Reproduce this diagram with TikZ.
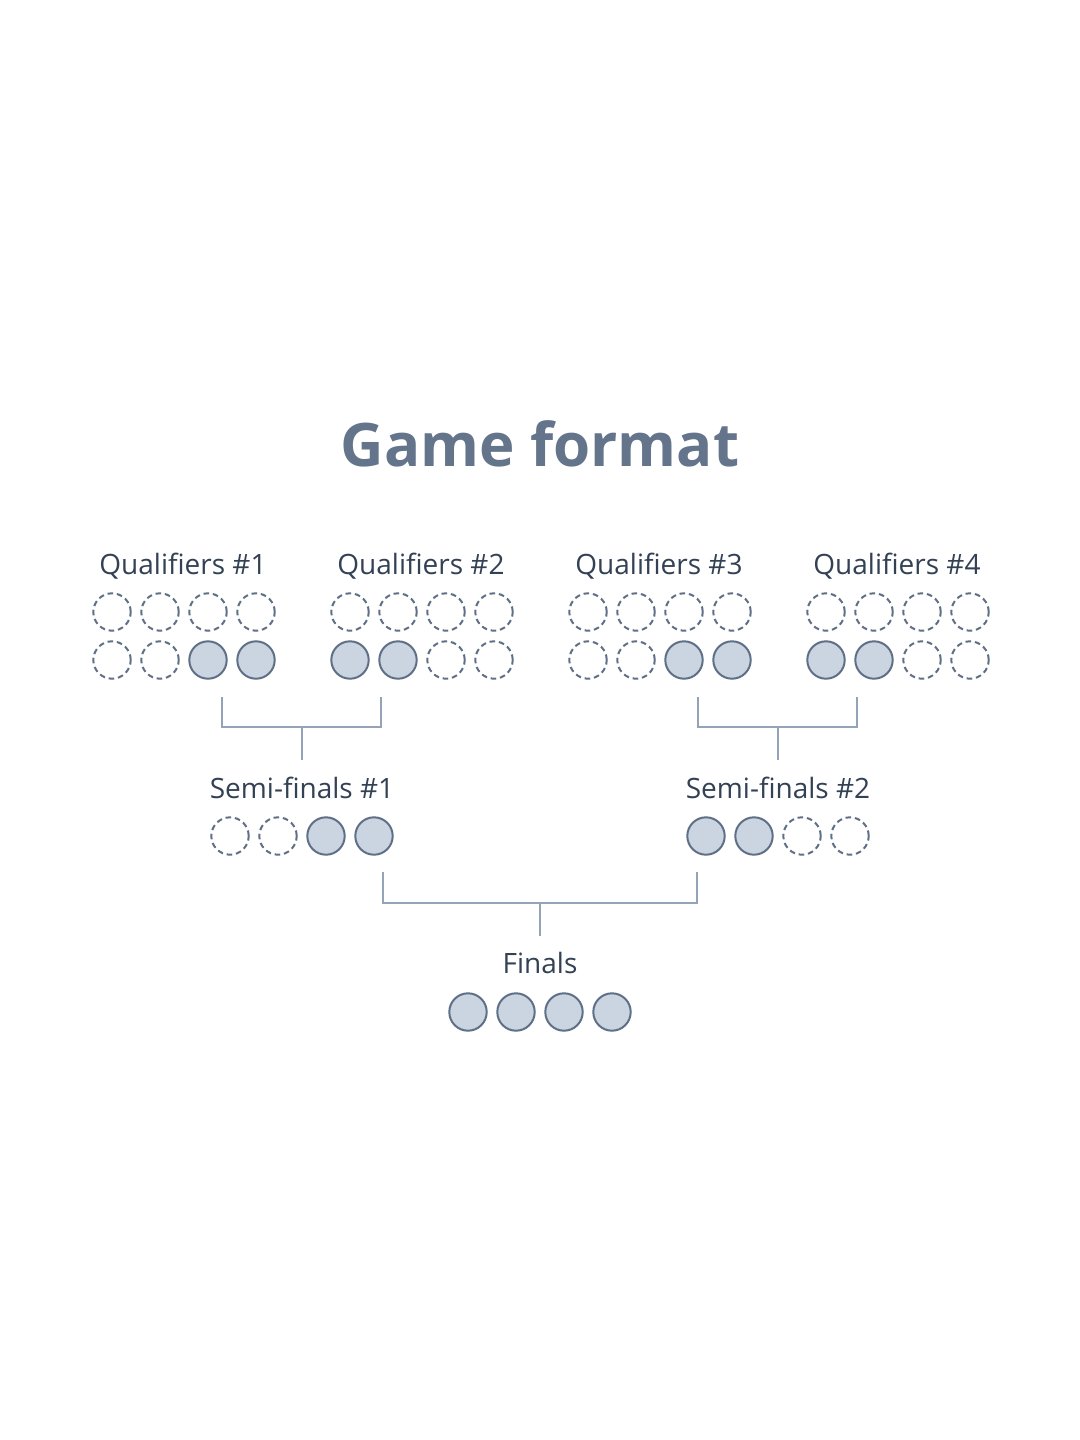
\documentclass[tikz,border=0pt]{standalone}
\usepackage{fontspec}
\setmainfont{Open Sans}
\usepackage{tikz}
\definecolor{titlegray}{HTML}{64748B}
\definecolor{labelgray}{HTML}{334155}
\definecolor{ringgray}{HTML}{5F6F86}
\definecolor{slotfill}{HTML}{CBD5E1}
\definecolor{bracketgray}{HTML}{94A3B8}
\tikzstyle{emptyslot} = [circle, draw=ringgray, line width=1pt, dash pattern=on 2.8pt off 1.9pt,
    minimum size=18.7pt, inner sep=0pt]
\tikzstyle{fullslot} = [circle, draw=ringgray, fill=slotfill, line width=1pt,
    minimum size=18.7pt, inner sep=0pt]
\tikzstyle{stage} = [anchor=base, text=labelgray, font=\fontsize{14}{17}\selectfont]
\tikzstyle{bracket} = [draw=bracketgray, line width=1pt]

\begin{document}
\begin{tikzpicture}[x=0.5pt, y=-0.5pt]
    \fill[white] (0,0) rectangle (1080,1440);
    \useasboundingbox (0,0) rectangle (1080,1440);
    % Place nodes
    \node [anchor=base, text=titlegray, font=\fontsize{30}{36}\selectfont\bfseries] (title) at (540,466) {Game format};
    \node [stage] (qual1) at (183,574) {Qualifiers \#1};
    \node [stage] (qual2) at (421,574) {Qualifiers \#2};
    \node [stage] (qual3) at (659,574) {Qualifiers \#3};
    \node [stage] (qual4) at (897,574) {Qualifiers \#4};
    \foreach \g/\x/\sa/\sb in {1/112/emptyslot/fullslot, 2/350/fullslot/emptyslot,
                               3/588/emptyslot/fullslot, 4/826/fullslot/emptyslot} {
        \foreach \i in {0,...,3}
            \node [emptyslot] (q\g top\i) at (\x+48*\i,612) {};
        \foreach \i in {0,1}
            \node [\sa] (q\g bot\i) at (\x+48*\i,660) {};
        \foreach \i in {2,3}
            \node [\sb] (q\g bot\i) at (\x+48*\i,660) {};
    }
    \node [stage] (semi1) at (302,798) {Semi-finals \#1};
    \node [stage] (semi2) at (778,798) {Semi-finals \#2};
    \foreach \i/\s in {0/emptyslot, 1/emptyslot, 2/fullslot, 3/fullslot}
        \node [\s] (s1slot\i) at (230+48*\i,836) {};
    \foreach \i/\s in {0/fullslot, 1/fullslot, 2/emptyslot, 3/emptyslot}
        \node [\s] (s2slot\i) at (706+48*\i,836) {};
    \node [stage] (finals) at (540,973) {Finals};
    \foreach \i in {0,...,3}
        \node [fullslot] (fslot\i) at (468+48*\i,1012) {};

    % Brackets
    \coordinate (b1l) at (222,697);
    \coordinate (b1r) at (381,697);
    \coordinate (b1m) at (302,727);
    \coordinate (b1e) at (302,760);
    \coordinate (b2l) at (698,697);
    \coordinate (b2r) at (857,697);
    \coordinate (b2m) at (778,727);
    \coordinate (b2e) at (778,760);
    \coordinate (b3l) at (383,872);
    \coordinate (b3r) at (697,872);
    \coordinate (b3m) at (540,903);
    \coordinate (b3e) at (540,936);
    \path [bracket] (b1l) |- (b1m) -| (b1r);
    \path [bracket] (b1m) -- (b1e);
    \path [bracket] (b2l) |- (b2m) -| (b2r);
    \path [bracket] (b2m) -- (b2e);
    \path [bracket] (b3l) |- (b3m) -| (b3r);
    \path [bracket] (b3m) -- (b3e);
\end{tikzpicture}
\end{document}
